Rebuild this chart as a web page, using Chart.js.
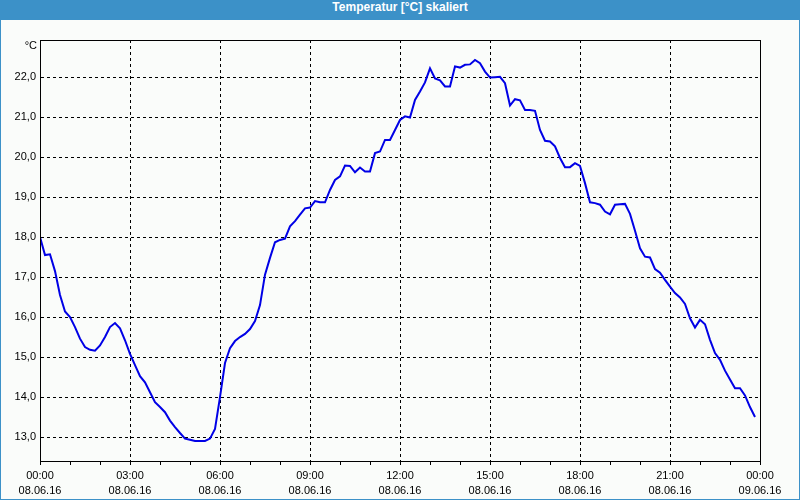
<!DOCTYPE html>
<html>
<head>
<meta charset="utf-8">
<script src="https://cdn.jsdelivr.net/npm/chart.js@4/dist/chart.umd.min.js"></script>
<style>
  html, body { margin: 0; padding: 0; background: #fafcfa; }
  #frame { width: 800px; height: 500px; box-sizing: border-box; position: relative; }
  #title {
    height: 20px; line-height: 20px; background: #3c91c8; color: #fff;
    font: bold 12px "Liberation Sans", Arial, sans-serif; text-align: center;
  }
  #body {
    height: 480px; box-sizing: border-box; background: #fafcfa;
    border-left: 1px solid #3c91c8; border-right: 1px solid #3c91c8; border-bottom: 1px solid #3c91c8;
  }
  canvas { display: block; }
</style>
</head>
<body>
<div id="frame">
  <div id="title">Temperatur [°C] skaliert</div>
  <div id="body"><canvas id="tempChart" width="798" height="479"></canvas></div>
</div>
<script>
// Temperaturwerte alle 10 Minuten, 08.06.16 00:00 bis 23:50
const temperatures = [
  18.00, 17.55, 17.57, 17.15, 16.55, 16.14, 16.00, 15.75, 15.46, 15.25,
  15.18, 15.16, 15.29, 15.50, 15.75, 15.85, 15.72, 15.42, 15.08, 14.80,
  14.52, 14.37, 14.12, 13.87, 13.75, 13.62, 13.41, 13.25, 13.10, 12.96,
  12.93, 12.90, 12.90, 12.90, 12.96, 13.20, 14.00, 14.85, 15.22, 15.40,
  15.50, 15.58, 15.70, 15.90, 16.30, 17.06, 17.48, 17.87, 17.93, 17.96,
  18.27, 18.40, 18.56, 18.72, 18.74, 18.90, 18.87, 18.87, 19.18, 19.43,
  19.52, 19.79, 19.78, 19.62, 19.74, 19.64, 19.64, 20.10, 20.14, 20.43,
  20.43, 20.68, 20.93, 21.02, 20.99, 21.43, 21.64, 21.87, 22.22, 21.97,
  21.92, 21.77, 21.77, 22.27, 22.24, 22.31, 22.32, 22.43, 22.35, 22.14,
  21.99, 22.00, 22.01, 21.85, 21.29, 21.45, 21.42, 21.18, 21.18, 21.16,
  20.68, 20.41, 20.39, 20.27, 19.98, 19.75, 19.75, 19.85, 19.78, 19.35,
  18.87, 18.85, 18.81, 18.64, 18.57, 18.81, 18.82, 18.83, 18.58, 18.16,
  17.72, 17.51, 17.49, 17.20, 17.11, 16.93, 16.76, 16.60, 16.49, 16.33,
  15.97, 15.74, 15.93, 15.82, 15.43, 15.10, 14.93, 14.66, 14.44, 14.22,
  14.22, 14.04, 13.75, 13.50
];
const sampleMinutes = temperatures.map((_, i) => i * 10);

const xTickLabels = [
  ['00:00', '08.06.16'], ['03:00', '08.06.16'], ['06:00', '08.06.16'],
  ['09:00', '08.06.16'], ['12:00', '08.06.16'], ['15:00', '08.06.16'],
  ['18:00', '08.06.16'], ['21:00', '08.06.16'], ['00:00', '09.06.16']
];
const yTickValues = [13, 14, 15, 16, 17, 18, 19, 20, 21, 22];

const FONT = { family: '"Liberation Sans", Arial, sans-serif', size: 11 };

// Rahmen oben/rechts und Einheit "°C"
const framePlugin = {
  id: 'frame',
  afterDraw(chart) {
    const { ctx, chartArea: a } = chart;
    ctx.save();
    ctx.strokeStyle = '#000';
    ctx.lineWidth = 1;
    ctx.strokeRect(Math.round(a.left) + 0.5, Math.round(a.top) + 0.5,
      Math.round(a.right - a.left), Math.round(a.bottom - a.top));
    ctx.fillStyle = '#000';
    ctx.font = '11px ' + FONT.family;
    ctx.textAlign = 'right';
    ctx.textBaseline = 'middle';
    ctx.fillText('°C', a.left - 3, a.top + 6);
    ctx.restore();
  }
};

new Chart(document.getElementById('tempChart'), {
  type: 'line',
  data: {
    datasets: [{
      data: sampleMinutes.map((m, i) => ({ x: m, y: temperatures[i] })),
      borderColor: '#0000e6',
      borderWidth: 2,
      pointRadius: 0,
      tension: 0,
      fill: false
    }]
  },
  options: {
    responsive: false,
    animation: false,
    events: [],
    layout: { padding: { left: 0, top: 20, right: 39, bottom: 0 } },
    plugins: { legend: { display: false }, tooltip: { enabled: false } },
    scales: {
      x: {
        type: 'linear',
        min: 0,
        max: 1440,
        afterFit: (scale) => { scale.height = 38; },
        ticks: {
          stepSize: 60,
          autoSkip: false,
          maxRotation: 0,
          padding: 3,
          color: '#000',
          font: { ...FONT, lineHeight: '15px' },
          callback: (v) => (v % 180 === 0 ? xTickLabels[v / 180] : '')
        },
        grid: {
          color: (c) => (c.tick && c.tick.value % 180 === 0 && c.tick.value > 0 && c.tick.value < 1440) ? '#000' : 'rgba(0,0,0,0)',
          tickColor: '#000',
          tickLength: 4,
          lineWidth: 1
        },
        border: { display: true, color: '#000', width: 1, dash: [3, 3] }
      },
      y: {
        min: 12.4,
        max: 22.93,
        afterFit: (scale) => { scale.width = 39; },
        afterBuildTicks: (scale) => { scale.ticks = yTickValues.map((v) => ({ value: v })); },
        ticks: {
          padding: 4,
          color: '#000',
          font: FONT,
          callback: (v) => v.toFixed(1).replace('.', ',')
        },
        grid: { color: '#000', lineWidth: 1, drawTicks: false },
        border: { display: true, color: '#000', width: 1, dash: [3, 3] }
      }
    }
  },
  plugins: [framePlugin]
});
</script>
</body>
</html>
